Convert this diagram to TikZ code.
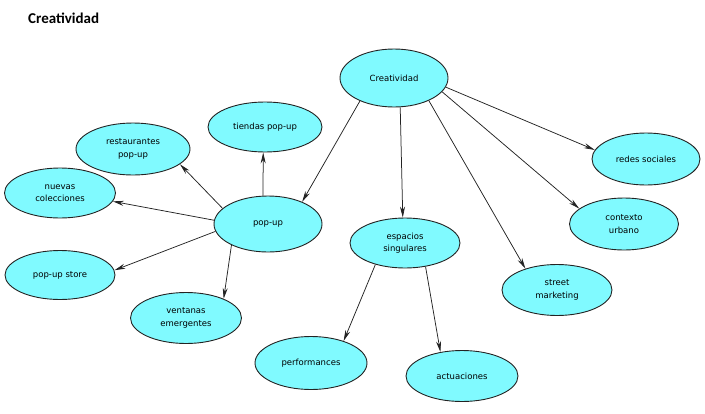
\documentclass[tikz,border=0pt]{standalone}
\usepackage{fontspec}
\setmainfont{DejaVu Sans}
\newfontfamily\titlefont{Carlito}
\usetikzlibrary{shapes.geometric,arrows.meta}
\definecolor{nodecyan}{RGB}{128,250,255}
\definecolor{edgegray}{RGB}{35,35,35}
\tikzset{
  el/.style={ellipse, draw=edgegray, line width=0.9pt, fill=nodecyan, inner sep=0pt,
    align=center, font=\fontsize{8.5}{12.5}\selectfont},
  conn/.style={draw=edgegray, line width=0.75pt, -{Stealth[length=11pt,width=5pt]}}
}
\begin{document}
\begin{tikzpicture}[x=1pt,y=-1pt]
\useasboundingbox (0,0) rectangle (705,413);
\node[anchor=west, inner sep=0pt, font=\titlefont\bfseries\fontsize{15}{17}\selectfont] (title) at (28,18) {Creatividad};
\node[el, minimum width=108pt, minimum height=58pt] (crea) at (394,78) {Creatividad};
\node[el, minimum width=114pt, minimum height=50pt] (tiendas) at (265,127) {tiendas pop-up};
\node[el, minimum width=114pt, minimum height=52pt] (rest) at (133,149) {restaurantes\\pop-up};
\node[el, minimum width=111pt, minimum height=50pt] (nuevas) at (60,193) {nuevas\\colecciones};
\node[el, minimum width=108pt, minimum height=56pt] (popup) at (268,224) {pop-up};
\node[el, minimum width=110pt, minimum height=49pt] (store) at (60,275) {pop-up store};
\node[el, minimum width=111pt, minimum height=51pt] (vent) at (186,318) {ventanas\\emergentes};
\node[el, minimum width=110pt, minimum height=50pt] (esp) at (405,243) {espacios\\singulares};
\node[el, minimum width=108pt, minimum height=52pt] (redes) at (646,159) {redes sociales};
\node[el, minimum width=109pt, minimum height=52pt] (ctx) at (624,224) {contexto\\urbano};
\node[el, minimum width=110pt, minimum height=51pt] (street) at (557,290) {street\\marketing};
\node[el, minimum width=112pt, minimum height=53pt] (perf) at (311,363) {performances};
\node[el, minimum width=112pt, minimum height=51pt] (act) at (462,376) {actuaciones};
\draw[conn] (crea.-146) -- (popup.33);
\draw[conn] (crea.-78) -- (esp.95);
\draw[conn] (crea.-33) -- (street.146);
\draw[conn] (crea.-16) -- (ctx.161);
\draw[conn] (crea.-10) -- (redes.170);
\draw[conn] (popup.100) -- (tiendas.-94);
\draw[conn] (popup.161) -- (rest.-18);
\draw[conn] (popup.176) -- (nuevas.-9);
\draw[conn] (popup.-172) -- (store.5);
\draw[conn] (popup.-150) -- (vent.27);
\draw[conn] (esp.-144) -- (perf.34);
\draw[conn] (esp.-49) -- (act.132);
\end{tikzpicture}
\end{document}
